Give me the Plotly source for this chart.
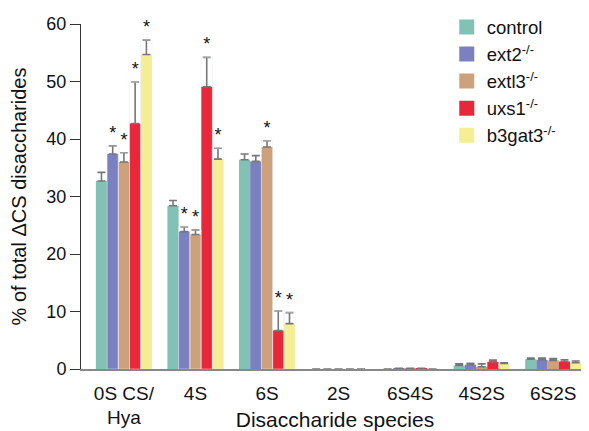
import plotly.graph_objects as go

categories = ["0S CS/<br>Hya", "4S", "6S", "2S", "6S4S", "4S2S", "6S2S"]
series_names = ["control", "ext2<sup>-/-</sup>", "extl3<sup>-/-</sup>", "uxs1<sup>-/-</sup>", "b3gat3<sup>-/-</sup>"]
colors = ["#82C2B4", "#7A80C0", "#CDA17B", "#E8273B", "#F5EE94"]

control = [32.7, 28.4, 36.4, 0, 0.0, 0.6, 1.7]
ext2 = [37.4, 23.9, 36.1, 0, 0.12, 0.75, 1.6]
extl3 = [36.0, 23.4, 38.6, 0, 0.12, 0.4, 1.5]
uxs1 = [42.7, 49.1, 6.7, 0, 0.12, 1.25, 1.3]
b3gat3 = [54.7, 36.5, 7.9, 0, 0.0, 0.95, 1.1]

control_err = [1.5, 0.9, 1.0, 0, 0, 0.3, 0.2]
ext2_err = [1.4, 0.8, 1.0, 0, 0, 0.25, 0.3]
extl3_err = [1.6, 0.8, 1.1, 0, 0, 0.5, 0.3]
uxs1_err = [7.2, 5.1, 3.4, 0, 0, 0.3, 0.3]
b3gat3_err = [2.5, 1.9, 1.9, 0, 0, 0.15, 0.3]

control_sig = [0, 0, 0, 0, 0, 0, 0]
ext2_sig = [1, 1, 0, 0, 0, 0, 0]
extl3_sig = [1, 1, 1, 0, 0, 0, 0]
uxs1_sig = [1, 1, 1, 0, 0, 0, 0]
b3gat3_sig = [1, 1, 1, 0, 0, 0, 0]

values = [control, ext2, extl3, uxs1, b3gat3]
errors = [control_err, ext2_err, extl3_err, uxs1_err, b3gat3_err]
sigs = [control_sig, ext2_sig, extl3_sig, uxs1_sig, b3gat3_sig]

FONT = "Liberation Sans, Arial, sans-serif"

fig = go.Figure()
for i, (name, col, v, e) in enumerate(zip(series_names, colors, values, errors)):
    fig.add_trace(go.Bar(
        x=categories, y=v, name=name, marker_color=col, marker_line_width=0,
        offsetgroup=str(i), showlegend=False,
        error_y=dict(type="data", array=e, symmetric=False, arrayminus=[0]*len(e),
                     color="#777777", thickness=1.6, width=4),
    ))

# significance stars on the same offset groups
for i, (v, e, s) in enumerate(zip(values, errors, sigs)):
    xs = [c for c, f in zip(categories, s) if f]
    ys = [vv + ee for vv, ee, f in zip(v, e, s) if f]
    fig.add_trace(go.Bar(
        x=xs, y=ys, base=0, marker_color="rgba(0,0,0,0)", showlegend=False,
        text=["*"] * len(xs), textposition="outside", offsetgroup=str(i),
        textfont=dict(size=18, color="#111111", family=FONT),
        cliponaxis=False, hoverinfo="skip",
    ))

# legend entries with larger square swatches
for name, col in zip(series_names, colors):
    fig.add_trace(go.Scatter(
        x=[None], y=[None], mode="markers", name=name,
        marker=dict(symbol="square", size=15, color=col),
    ))

fig.update_layout(
    barmode="group", bargap=0.215, bargroupgap=0,
    width=581, height=423,
    margin=dict(l=73, r=0, t=12, b=62),
    plot_bgcolor="white", paper_bgcolor="white",
    font=dict(family=FONT, size=17, color="#111111"),
    legend=dict(x=0.72, y=1.045, xanchor="left", yanchor="top",
                font=dict(size=18.5), tracegroupgap=0, itemwidth=30,
                bgcolor="rgba(0,0,0,0)"),
    showlegend=True,
)
fig.update_yaxes(range=[0, 60], tickvals=[0, 10, 20, 30, 40, 50, 60],
                 showline=True, linecolor="#333333", linewidth=1,
                 ticks="outside", ticklen=10, tickcolor="#333333",
                 tickfont=dict(size=18),
                 showgrid=False, zeroline=False, automargin=False,
                 title=dict(text="% of total ΔCS disaccharides", font=dict(size=20), standoff=16))
fig.update_xaxes(showline=True, linecolor="#888888", linewidth=1.5,
                 ticks="outside", ticklen=6, tickcolor="rgba(0,0,0,0)",
                 tickfont=dict(size=19), automargin=False,
                 range=[-0.6, 6.5], showgrid=False,
                 title=dict(text="Disaccharide species", font=dict(size=21), standoff=0))

fig.write_html("out.html")
